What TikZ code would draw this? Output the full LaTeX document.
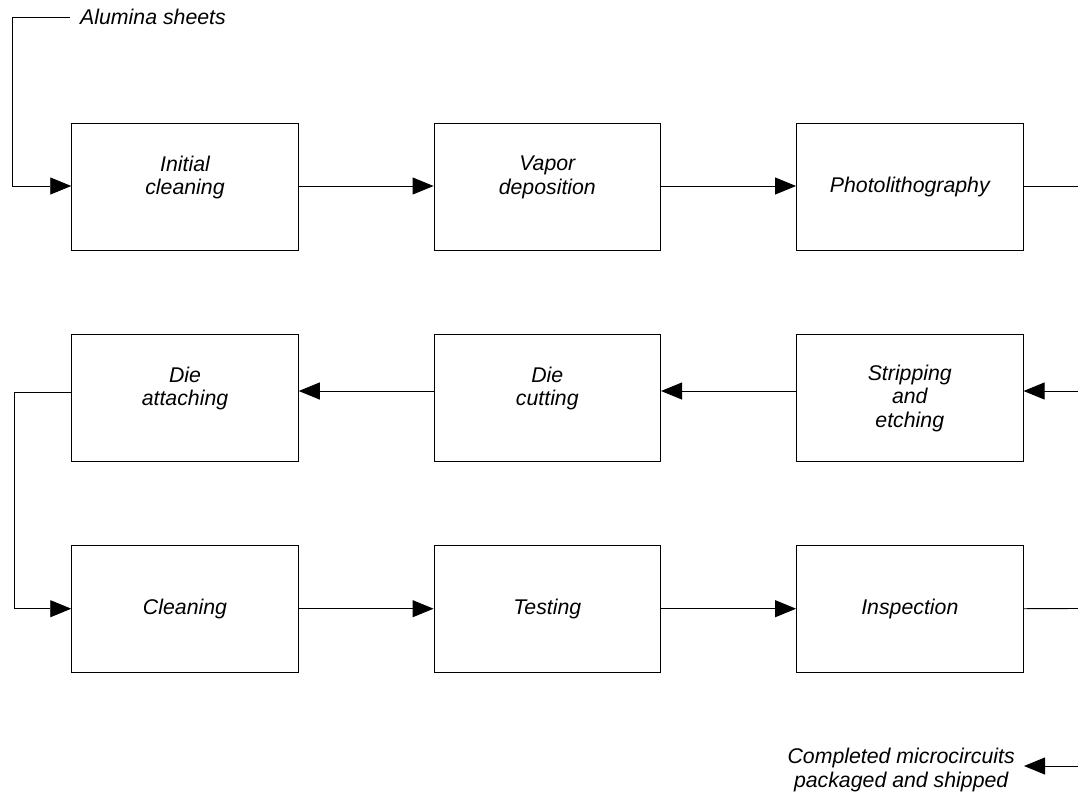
\documentclass[tikz,border=0pt]{standalone}
\usepackage{fontspec}
\setmainfont{Liberation Sans}
\usetikzlibrary{arrows.meta}
\begin{document}
\begin{tikzpicture}[x=1pt,y=-1pt,
  every node/.style={font=\fontsize{21.3}{23.5}\selectfont\itshape},
  stepbox/.style={draw=black, line width=0.9pt, minimum width=226.6pt, minimum height=127.5pt, align=center, inner sep=0pt},
  conn/.style={line width=0.9pt, draw=black},
  arr/.style={conn, -{Triangle[length=21pt,width=17pt]}},
  lbl/.style={inner ysep=0pt, align=center}]
\useasboundingbox (0,0) rectangle (1078,796);
% row 1
\node[stepbox] (b1) at (185,187) {Initial\\cleaning\\~};
\node[stepbox] (b2) at (547.3,187) {Vapor\\deposition\\~};
\node[stepbox] (b3) at (909.8,187) {Photolithography};
% row 2
\node[stepbox] (b4) at (185,398) {Die\\attaching\\~};
\node[stepbox] (b5) at (547.3,398) {Die\\cutting\\~};
\node[stepbox] (b6) at (909.8,398) {Stripping\\and\\etching};
% row 3
\node[stepbox] (b7) at (185,608.7) {Cleaning};
\node[stepbox] (b8) at (547.3,608.7) {Testing};
\node[stepbox] (b9) at (909.8,608.7) {Inspection};
% labels
\node[lbl, inner xsep=10pt, anchor=west] (alumina) at (70,17) {Alumina sheets};
\node[lbl, inner xsep=9pt, anchor=east] (done) at (1024,770) {Completed microcircuits\\packaged and shipped};
% coordinates
\coordinate (a0) at (12,17);
\coordinate (c1) at (14,392);
\coordinate (r1) at (1078,186);
\coordinate (r2) at (1078,391);
\coordinate (r3) at (1078,608.5);
\coordinate (r4) at (1078,766);
% connectors
\draw[arr] (alumina.west) -- (a0) |- ([yshift=1pt]b1.west);
\draw[arr] ([yshift=1pt]b1.east) -- ([yshift=1pt]b2.west);
\draw[arr] ([yshift=1pt]b2.east) -- ([yshift=1pt]b3.west);
\draw[conn] ([yshift=1pt]b3.east) -- (r1);
\draw[arr] (r2) -- (b6.east |- r2);
\draw[arr] (b6.west |- r2) -- (b5.east |- r2);
\draw[arr] (b5.west |- r2) -- (b4.east |- r2);
\draw[arr] (b4.west |- c1) -- (c1) |- (b7.west);
\draw[arr] (b7.east) -- (b8.west);
\draw[arr] (b8.east) -- (b9.west);
\draw[conn] (b9.east) -- (r3);
\draw[arr] (r4) -- (done.east |- r4);
\end{tikzpicture}
\end{document}
